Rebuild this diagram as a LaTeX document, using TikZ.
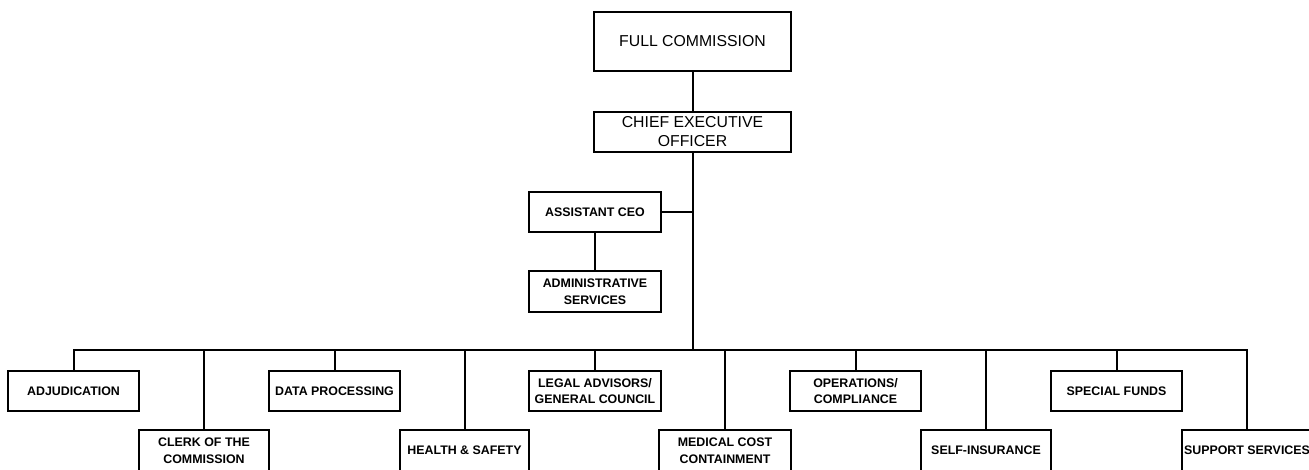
\documentclass[tikz,border=0pt]{standalone}
\usepackage{fontspec}
\setmainfont{Liberation Sans}
\begin{document}
\begin{tikzpicture}[x=1pt,y=-1pt,
  box/.style={draw,line width=2pt,rectangle,inner sep=0pt,align=center,
    font=\bfseries\fontsize{12.4}{16.5}\selectfont},
  topbox/.style={box,font=\fontsize{15.8}{19}\selectfont},
  link/.style={line width=2pt}]
\useasboundingbox (0,0) rectangle (1309,470);
\clip (0,0) rectangle (1309,470);
\node[topbox,minimum width=197pt,minimum height=59pt] (full) at (692.5,41.5) {FULL COMMISSION};
\node[topbox,minimum width=197pt,minimum height=40pt] (ceo) at (692.5,132) {CHIEF EXECUTIVE\\OFFICER};
\node[box,minimum width=132pt,minimum height=40pt] (asst) at (595,212) {ASSISTANT CEO};
\node[box,minimum width=132pt,minimum height=41pt] (admin) at (595,291.5) {ADMINISTRATIVE\\SERVICES};
% upper row
\node[box,minimum width=131pt,minimum height=40pt] (adj) at (73.5,391) {ADJUDICATION};
\node[box,minimum width=131pt,minimum height=40pt] (data) at (334.5,391) {DATA PROCESSING};
\node[box,minimum width=132pt,minimum height=40pt] (legal) at (595,391) {LEGAL ADVISORS/\\GENERAL COUNCIL};
\node[box,minimum width=131pt,minimum height=40pt] (ops) at (855.5,391) {OPERATIONS/\\COMPLIANCE};
\node[box,minimum width=131pt,minimum height=40pt] (special) at (1116.5,391) {SPECIAL FUNDS};
% lower row
\node[box,minimum width=130pt,minimum height=41pt] (clerk) at (204,450.5) {CLERK OF THE\\COMMISSION};
\node[box,minimum width=129pt,minimum height=41pt] (health) at (464.5,450.5) {HEALTH \& SAFETY};
\node[box,minimum width=132pt,minimum height=41pt] (medical) at (725,450.5) {MEDICAL COST\\CONTAINMENT};
\node[box,minimum width=130pt,minimum height=41pt] (self) at (986,450.5) {SELF-INSURANCE};
\node[box,minimum width=130pt,minimum height=41pt] (support) at (1247,450.5) {SUPPORT SERVICES};
\coordinate (bus) at (692.5,350);
\draw[link] (full.south) -- (ceo.north);
\draw[link] (ceo.south) -- (bus);
\draw[link] (asst.east) -- (asst.east -| ceo.south);
\draw[link] (asst.south) -- (admin.north);
\draw[link,line cap=rect] (adj.north |- bus) -- (support.north |- bus);
\foreach \n in {adj,clerk,data,health,legal,medical,ops,self,special,support}
  \draw[link] (\n.north) -- (\n.north |- bus);
\end{tikzpicture}
\end{document}
